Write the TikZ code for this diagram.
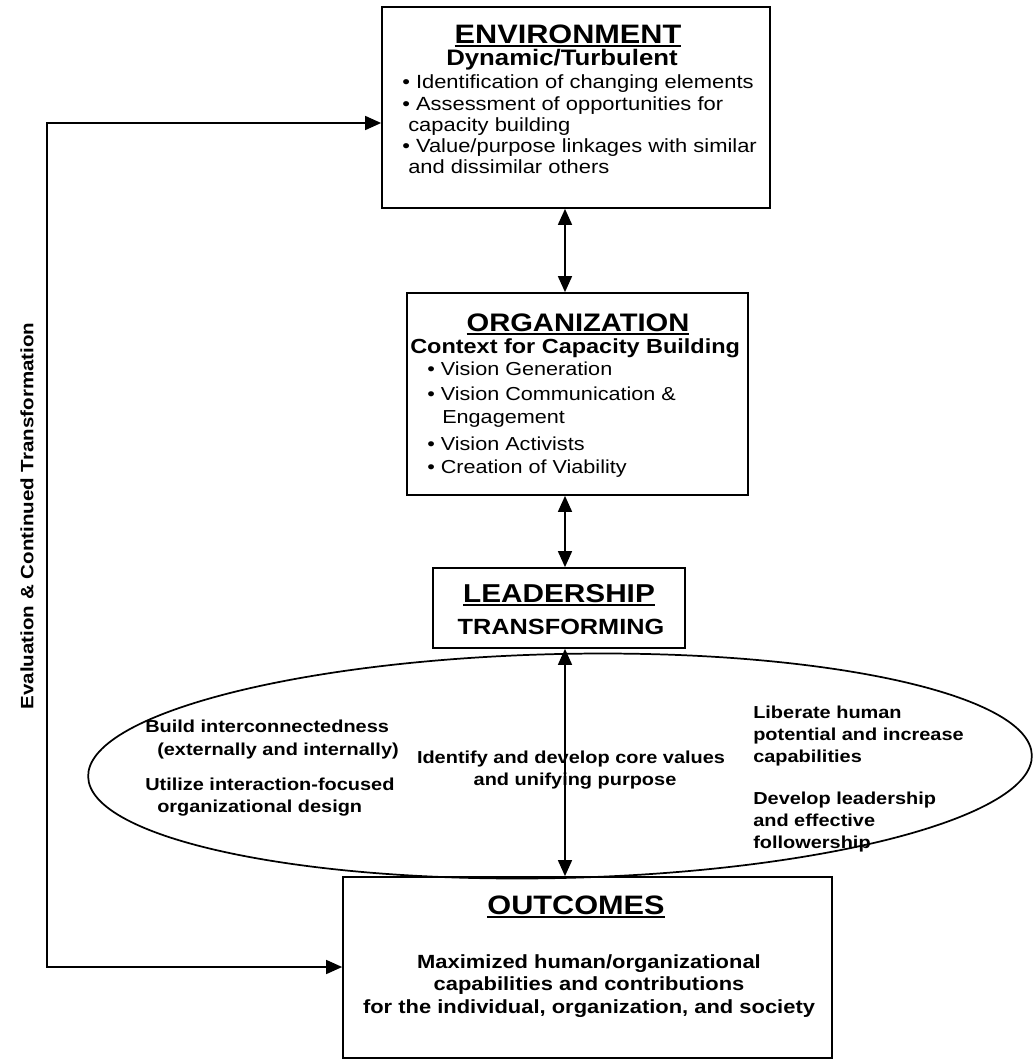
\documentclass[tikz,border=0pt]{standalone}
\usepackage{fontspec}
\setmainfont{Liberation Sans}[FakeStretch=1.15]
\usetikzlibrary{arrows.meta,shapes.geometric}
\newcommand{\ulhead}[1]{\setbox0\hbox{#1}\rlap{\vrule height -1.6pt depth 2.8pt width \wd0}\box0}

\begin{document}
\begin{tikzpicture}[x=0.75pt,y=-0.75pt,
    box/.style={draw,line width=1.3pt,inner sep=0pt},
    ln/.style={inner sep=0pt,anchor=base west},
    cl/.style={inner sep=0pt,anchor=base},
    envtxt/.style={font=\fontsize{14.3}{16}\selectfont},
    orgtxt/.style={font=\fontsize{14.1}{16}\selectfont},
    elltxt/.style={font=\bfseries\fontsize{13}{15}\selectfont},
    outtxt/.style={font=\bfseries\fontsize{14.3}{16}\selectfont},
    tip/.style={line width=1.2pt,{Triangle[length=12pt,width=10.5pt]}-{Triangle[length=12pt,width=10.5pt]}}]
    %
    \useasboundingbox (0,0) rectangle (1035,1064);
    \coordinate (axis) at (565,0);
    %
    \node[box,minimum width=291pt,minimum height=150.75pt] (env) at (576,107.5) {};
    \node[box,minimum width=255.75pt,minimum height=151.5pt] (org) at (577.5,394) {};
    \node[box,minimum width=189pt,minimum height=60pt] (lead) at (559,608) {};
    \node[draw,ellipse,line width=1.3pt,inner sep=0pt,minimum width=708pt,minimum height=168pt,rotate=1.3] (core) at (560,766) {};
    \node[box,minimum width=366.75pt,minimum height=135.75pt] (outc) at (587.5,967.5) {};
    %
    \node[cl,font=\bfseries\fontsize{20}{22}\selectfont] (envh) at (568,43) {\ulhead{ENVIRONMENT}};
    \node[cl,font=\bfseries\fontsize{16.8}{18}\selectfont] (envs) at (562,65) {Dynamic/Turbulent};
    \node[ln,envtxt] (e1) at (402,88) {• Identification of changing elements};
    \node[ln,envtxt] (e2) at (402,110) {• Assessment of opportunities for};
    \node[ln,envtxt] (e3) at (408,131) {capacity building};
    \node[ln,envtxt] (e4) at (402,152) {• Value/purpose linkages with similar};
    \node[ln,envtxt] (e5) at (408,173) {and dissimilar others};
    %
    \node[cl,font=\bfseries\fontsize{19}{21}\selectfont] (orgh) at (578,331) {\ulhead{ORGANIZATION}};
    \node[ln,font=\bfseries\fontsize{15.3}{17}\selectfont] (orgs) at (410,353) {Context for Capacity Building};
    \node[ln,orgtxt] (o1) at (427,375) {• Vision Generation};
    \node[ln,orgtxt] (o2) at (427,400) {• Vision Communication \&};
    \node[ln,orgtxt] (o3) at (442,423) {Engagement};
    \node[ln,orgtxt] (o4) at (427,450) {• Vision Activists};
    \node[ln,orgtxt] (o5) at (427,473) {• Creation of Viability};
    %
    \node[cl,font=\bfseries\fontsize{19.4}{21}\selectfont] (leadh) at (559,602) {\ulhead{LEADERSHIP}};
    \node[cl,font=\bfseries\fontsize{16.5}{18}\selectfont] (leads) at (561,634) {TRANSFORMING};
    %
    \node[ln,elltxt] (l1) at (145,732) {Build interconnectedness};
    \node[ln,elltxt] (l2) at (157,755) {(externally and internally)};
    \node[ln,elltxt] (l3) at (145,790) {Utilize interaction-focused};
    \node[ln,elltxt] (l4) at (157,812) {organizational design};
    \node[cl,elltxt] (c1) at (571,763) {Identify and develop core values};
    \node[cl,elltxt] (c2) at (575,785) {and unifying purpose};
    \node[ln,elltxt] (r1) at (753,718) {Liberate human};
    \node[ln,elltxt] (r2) at (753,740) {potential and increase};
    \node[ln,elltxt] (r3) at (753,762) {capabilities};
    \node[ln,elltxt] (r4) at (753,804) {Develop leadership};
    \node[ln,elltxt] (r5) at (753,826) {and effective};
    \node[ln,elltxt] (r6) at (753,848) {followership};
    %
    \node[cl,font=\bfseries\fontsize{20}{22}\selectfont] (outh) at (576,914) {\ulhead{OUTCOMES}};
    \node[cl,outtxt] (m1) at (589,968) {Maximized human/organizational};
    \node[cl,outtxt] (m2) at (589,990) {capabilities and contributions};
    \node[cl,outtxt] (m3) at (589,1013) {for the individual, organization, and society};
    %
    \node[rotate=90,inner sep=0pt,font=\bfseries\fontsize{13.4}{15}\selectfont] (fb) at (27,516) {Evaluation \& Continued Transformation};
    \coordinate (fbtop) at (47,123);
    \coordinate (fbbot) at (47,967);
    %
    \draw[tip] (env.south -| axis) -- (org.north -| axis);
    \draw[tip] (org.south -| axis) -- (lead.north -| axis);
    \draw[tip] (lead.south -| axis) -- (outc.north -| axis);
    \draw[tip] (env.west |- fbtop) -- (fbtop) -- (fbbot) -- (outc.west |- fbbot);
    %
\end{tikzpicture}
\end{document}
